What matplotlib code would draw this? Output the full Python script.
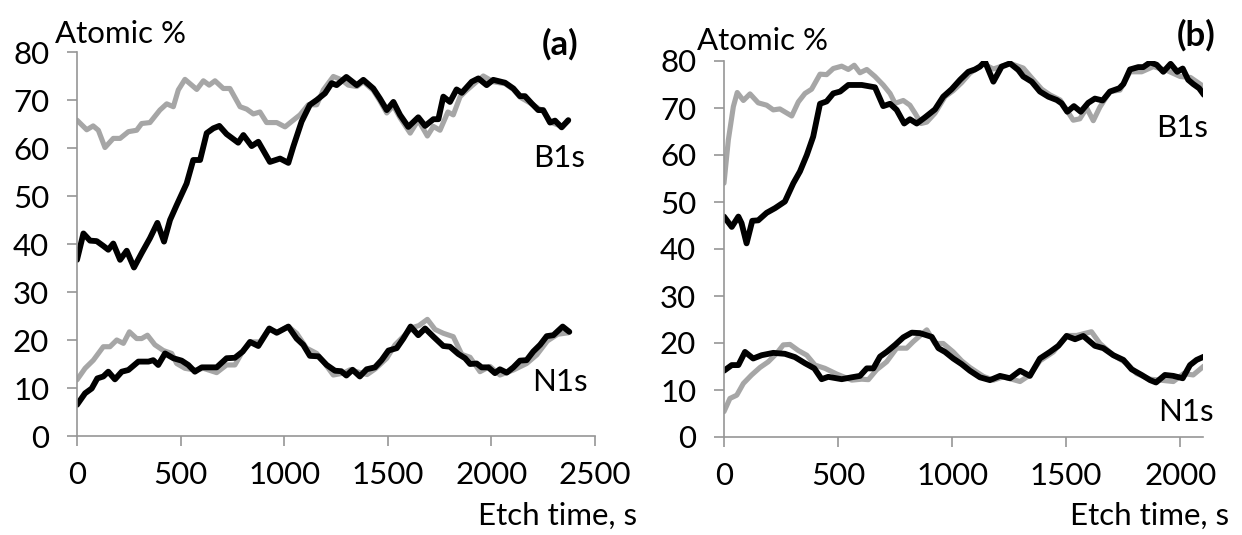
import numpy as np
import matplotlib
matplotlib.use("Agg")
import matplotlib.pyplot as plt

plt.rcParams['font.family'] = ['Lato', 'DejaVu Sans']

# ── Panel (a): depth profiles ────────────────────────────────────────────────
a_b1s_gray_t = [0, 47, 78, 103, 135, 175, 208, 248, 288, 312, 352, 400, 433, 465, 489,
                521, 578, 610, 638, 666, 706, 738, 787, 819, 851, 883, 915, 964, 1004,
                1044, 1076, 1116, 1157, 1189, 1237, 1277, 1309, 1350, 1382, 1430, 1462,
                1495, 1527, 1559, 1608, 1647, 1691, 1720, 1752, 1790, 1816, 1849, 1880,
                1920, 1961, 2009, 2066, 2106, 2138, 2194, 2250, 2290, 2340, 2371]
a_b1s_gray = [65.8, 63.8, 64.6, 63.7, 60.1, 62, 62, 63.4, 63.7, 65.1, 65.3, 67.9, 69.2,
              68.6, 72.1, 74.3, 72.2, 74, 73.1, 74, 72.4, 72.4, 68.6, 68.1, 67.1, 67.5,
              65.3, 65.3, 64.4, 65.8, 66.9, 69, 69, 72.1, 74.9, 74.2, 73.1, 72.8, 73.8,
              72, 69.8, 67.3, 68.8, 66.3, 63.1, 65.8, 62.5, 64.5, 63.7, 67.5, 66.9, 70.7,
              72, 73.5, 75, 73.8, 73.4, 72.2, 70.6, 69.2, 67.6, 65.3, 64.5, 65.6]

a_b1s_black_t = [0, 31, 63, 95, 127, 151, 175, 208, 240, 275, 312, 352, 388, 420, 449,
                 481, 529, 561, 594, 626, 658, 687, 722, 778, 803, 843, 875, 931, 980,
                 1020, 1044, 1084, 1124, 1157, 1197, 1229, 1253, 1300, 1350, 1382, 1430,
                 1462, 1495, 1527, 1559, 1599, 1647, 1680, 1720, 1744, 1768, 1800, 1832,
                 1857, 1905, 1937, 1977, 2009, 2066, 2106, 2138, 2162, 2194, 2226, 2250,
                 2283, 2307, 2339, 2371]
a_b1s_black = [36.7, 42.2, 40.7, 40.6, 39.6, 38.8, 40.1, 36.7, 38.6, 35.1, 38.1, 41.2,
               44.4, 40.5, 45, 48.1, 52.6, 57.5, 57.5, 63.1, 64.1, 64.6, 62.9, 61.1, 62.7,
               60.4, 61.3, 57.1, 57.8, 56.9, 60.3, 65.5, 69, 70, 71.4, 73.5, 73.1, 74.8,
               73.1, 74.2, 72.4, 70.3, 67.9, 69.6, 66.9, 64.4, 66.4, 64.6, 66, 66, 70.7,
               69.6, 72.2, 71.5, 73.8, 74.5, 73.1, 74.2, 73.6, 72.4, 70.8, 70.8, 69.3,
               67.9, 67.9, 65.3, 65.7, 64.3, 65.8]

a_n1s_gray_t = [0, 39, 79, 127, 159, 192, 224, 253, 288, 312, 340, 376, 417, 457, 481,
                521, 569, 610, 674, 722, 762, 803, 843, 883, 923, 971, 1020, 1060, 1108,
                1157, 1189, 1237, 1285, 1318, 1350, 1400, 1440, 1495, 1535, 1593, 1620,
                1650, 1691, 1728, 1768, 1816, 1857, 1897, 1945, 1993, 2041, 2106, 2170,
                2219, 2270, 2320, 2371]
a_n1s_gray = [11.7, 14.1, 15.8, 18.6, 18.6, 20, 19.3, 21.7, 20.3, 20.3, 21, 19, 17.8,
              17.2, 15.1, 14.1, 13.75, 14.1, 13.2, 14.8, 14.8, 17.9, 19.6, 19.6, 22.1,
              21.7, 22.8, 21.4, 18.3, 17.2, 15.5, 12.7, 13.1, 13.8, 13.4, 12.8, 14,
              16.2, 19, 21.5, 22.6, 23, 24.3, 22.2, 21.4, 20.7, 17, 16.4, 13.4, 14.5,
              12.7, 13.75, 15.1, 16.9, 19.8, 21.2, 21.5]

a_n1s_black_t = [0, 39, 71, 98, 127, 151, 183, 216, 248, 296, 345, 368, 392, 425, 465,
                 505, 537, 569, 602, 674, 722, 762, 800, 835, 875, 928, 964, 1020, 1060,
                 1092, 1124, 1165, 1205, 1245, 1275, 1300, 1330, 1365, 1398, 1438, 1470,
                 1503, 1543, 1575, 1610, 1647, 1680, 1720, 1768, 1800, 1840, 1873, 1897,
                 1929, 1953, 1985, 2017, 2041, 2074, 2106, 2138, 2170, 2202, 2235, 2267,
                 2299, 2344, 2376]
a_n1s_black = [6.5, 8.9, 9.9, 12, 12.4, 13.4, 11.8, 13.4, 13.75, 15.5, 15.5, 15.8, 14.8,
               17.2, 16.2, 15.7, 14.8, 13.4, 14.3, 14.3, 16.2, 16.3, 17.6, 19.6, 18.75,
               22.4, 21.5, 22.8, 20.3, 19, 16.7, 16.6, 14.8, 13.6, 13.5, 12.6, 13.8,
               12.4, 13.9, 14.3, 15.8, 17.8, 18.3, 20.3, 22.8, 21, 22.4, 20.7, 18.75,
               18.6, 17.1, 16.2, 15, 15.1, 14.3, 14.3, 13.1, 13.9, 13.2, 14.3, 15.7,
               15.8, 17.6, 19, 20.8, 21, 22.8, 21.7]

# ── Panel (b): depth profiles ────────────────────────────────────────────────
b_b1s_gray_t = [0, 19, 41, 58, 85, 114, 150, 187, 216, 245, 297, 326, 355, 384, 421,
                450, 479, 516, 545, 571, 596, 626, 662, 698, 728, 750, 786, 815, 840,
                864, 889, 925, 969, 1005, 1042, 1078, 1137, 1181, 1254, 1312, 1349, 1393,
                1429, 1474, 1531, 1560, 1590, 1619, 1648, 1692, 1736, 1780, 1831, 1882,
                1941, 2000, 2045, 2102]
b_b1s_gray = [54, 63.2, 70.3, 73.3, 71.6, 73, 71.1, 70.6, 69.6, 69.8, 68.3, 71.3, 73.1,
              74, 77.2, 77.1, 78.4, 78.9, 78.2, 79.1, 77.5, 78.2, 76.7, 74.9, 73.1, 71,
              71.6, 70.6, 68.7, 66.7, 67, 68.9, 72.4, 73.7, 75.4, 77.4, 79.4, 78.3,
              79.5, 78.5, 76.4, 74, 72.8, 71.7, 67.4, 67.7, 70, 67.3, 70.2, 73.5, 73.8,
              77.7, 77.7, 78.8, 78, 76.7, 76.5, 74.6]

b_b1s_black_t = [0, 34, 63, 77, 99, 124, 150, 187, 224, 267, 304, 333, 363, 391, 421,
                 450, 479, 509, 545, 604, 662, 698, 728, 757, 790, 815, 845, 881, 925,
                 961, 998, 1035, 1071, 1100, 1122, 1144, 1181, 1217, 1254, 1290, 1312,
                 1349, 1385, 1422, 1459, 1480, 1505, 1534, 1564, 1597, 1626, 1660, 1692,
                 1733, 1751, 1780, 1816, 1838, 1868, 1897, 1926, 1958, 1987, 2011, 2035,
                 2057, 2083, 2104]
b_b1s_black = [46.9, 44.7, 46.9, 45.5, 41.2, 46, 46.1, 47.7, 48.7, 50.1, 54, 56.5, 60,
               63.9, 70.9, 71.4, 73.1, 73.5, 74.9, 74.9, 74.4, 70.4, 70.9, 69.6, 66.7,
               67.6, 66.7, 68, 69.7, 72.4, 74, 76, 77.7, 78.2, 78.8, 79.9, 75.6, 78.8,
               79.5, 78.1, 76.7, 75.6, 73.5, 72.4, 71.7, 71, 69.2, 70.4, 69.2, 71.1, 72,
               71.6, 73.5, 74.2, 75.1, 78.2, 78.7, 78.7, 79.7, 79.2, 77.7, 79.4, 77.7,
               78.4, 76, 75.1, 74.2, 72.8]

b_n1s_gray_t = [0, 26, 56, 85, 121, 158, 194, 231, 260, 289, 326, 363, 399, 443, 494,
                560, 604, 633, 669, 713, 757, 801, 830, 889, 925, 961, 1005, 1042, 1078,
                1137, 1181, 1225, 1298, 1341, 1385, 1444, 1502, 1546, 1611, 1648, 1707,
                1765, 1809, 1868, 1912, 1970, 2015, 2057, 2104]
b_n1s_gray = [5.4, 8.2, 8.9, 11.4, 13.2, 14.8, 16, 17.8, 19.6, 19.7, 18.4, 17.4, 15.3,
              14.6, 13.4, 12.1, 12.3, 12.2, 14.3, 16, 18.9, 18.9, 20.3, 22.8, 19.9,
              19.9, 18.1, 16.2, 14.8, 12.9, 12.1, 12.8, 11.8, 13.2, 16.2, 18.1, 21.6,
              21.6, 22.4, 19.9, 17.4, 15.7, 13.5, 12.3, 12.1, 11.8, 13.5, 13.2, 15.1]

b_n1s_black_t = [0, 34, 63, 92, 128, 165, 216, 267, 311, 355, 396, 428, 457, 516, 560,
                 596, 626, 655, 684, 713, 750, 786, 823, 859, 911, 940, 969, 1005, 1042,
                 1078, 1122, 1166, 1210, 1254, 1298, 1341, 1385, 1429, 1466, 1502, 1539,
                 1575, 1626, 1663, 1707, 1751, 1787, 1831, 1868, 1894, 1933, 1970, 2011,
                 2043, 2072, 2104]
b_n1s_black = [14.1, 15.3, 15.3, 18.1, 16.7, 17.4, 17.9, 17.7, 17, 15.7, 14.6, 12.3,
               12.8, 12.3, 12.7, 13, 14.6, 14.6, 17.1, 18.1, 19.6, 21.2, 22.2, 22.1, 21.3,
               18.9, 18.1, 16.7, 15.5, 14.1, 12.7, 12.1, 13, 12.5, 14.1, 13, 16.7, 18.1,
               19.4, 21.5, 20.8, 21.5, 19.4, 18.9, 17.4, 16.4, 14.4, 13.2, 12.1, 11.6,
               13.2, 13, 12.5, 15.3, 16.4, 17.1]

Y_TICKS = [0, 10, 20, 30, 40, 50, 60, 70, 80]
A_XTICKS = [0, 500, 1000, 1500, 2000, 2500]
B_XTICKS = [0, 500, 1000, 1500, 2000]

GRAY = "#a6a6a6"
AXIS = "#969696"
FS = 22.5

W, H = 1242, 535
fig = plt.figure(figsize=(W / 100, H / 100), dpi=100)


def px(x, y):
    """pixel position -> figure fraction"""
    return x / W, 1 - y / H


def style(ax, xlim, xticks):
    ax.set_xlim(*xlim)
    ax.set_ylim(0, 80)
    ax.set_xticks(xticks)
    ax.set_yticks(Y_TICKS)
    for side in ("top", "right"):
        ax.spines[side].set_visible(False)
    for side in ("left", "bottom"):
        ax.spines[side].set_color(AXIS)
        ax.spines[side].set_linewidth(1.2)
    ax.tick_params(axis="both", colors=AXIS, labelcolor="black", labelsize=FS,
                   length=7, width=1.2, direction="out")
    ax.tick_params(axis="x", pad=11)
    ax.tick_params(axis="y", pad=13)
    ax.set_facecolor("none")


def profile(ax, t, v, color, lw):
    ax.plot(t, v, color=color, lw=lw, solid_joinstyle="round",
            solid_capstyle="round")


# panel (a)
axa = fig.add_axes([77 / W, 1 - 436 / H, 518 / W, 384 / H])
profile(axa, a_b1s_gray_t, a_b1s_gray, GRAY, 3.7)
profile(axa, a_n1s_gray_t, a_n1s_gray, GRAY, 3.7)
profile(axa, a_b1s_black_t, a_b1s_black, "black", 4.2)
profile(axa, a_n1s_black_t, a_n1s_black, "black", 4.2)
style(axa, (0, 2500), A_XTICKS)

# panel (b)
axb = fig.add_axes([724 / W, 1 - 437 / H, 479 / W, 376 / H])
profile(axb, b_b1s_gray_t, b_b1s_gray, GRAY, 3.7)
profile(axb, b_n1s_gray_t, b_n1s_gray, GRAY, 3.7)
profile(axb, b_b1s_black_t, b_b1s_black, "black", 4.2)
profile(axb, b_n1s_black_t, b_n1s_black, "black", 4.2)
style(axb, (0, 2100), B_XTICKS)

# labels
fig.text(*px(55, 43), "Atomic %", fontsize=FS, ha="left", va="baseline")
fig.text(*px(697, 50), "Atomic %", fontsize=FS, ha="left", va="baseline")
fig.text(*px(560, 44), "(a)", fontsize=25, fontweight="bold", ha="center", va="center")
fig.text(*px(1196, 35), "(b)", fontsize=25, fontweight="bold", ha="center", va="center")
fig.text(*px(585, 158), "B1s", fontsize=FS, ha="right", va="center")
fig.text(*px(588, 382), "N1s", fontsize=FS, ha="right", va="center")
fig.text(*px(1208, 128), "B1s", fontsize=FS, ha="right", va="center")
fig.text(*px(1214, 412), "N1s", fontsize=FS, ha="right", va="center")
fig.text(*px(637, 516), "Etch time, s", fontsize=FS, ha="right", va="center")
fig.text(*px(1229, 516), "Etch time, s", fontsize=FS, ha="right", va="center")

fig.savefig("out.png", dpi=100, facecolor="white")
